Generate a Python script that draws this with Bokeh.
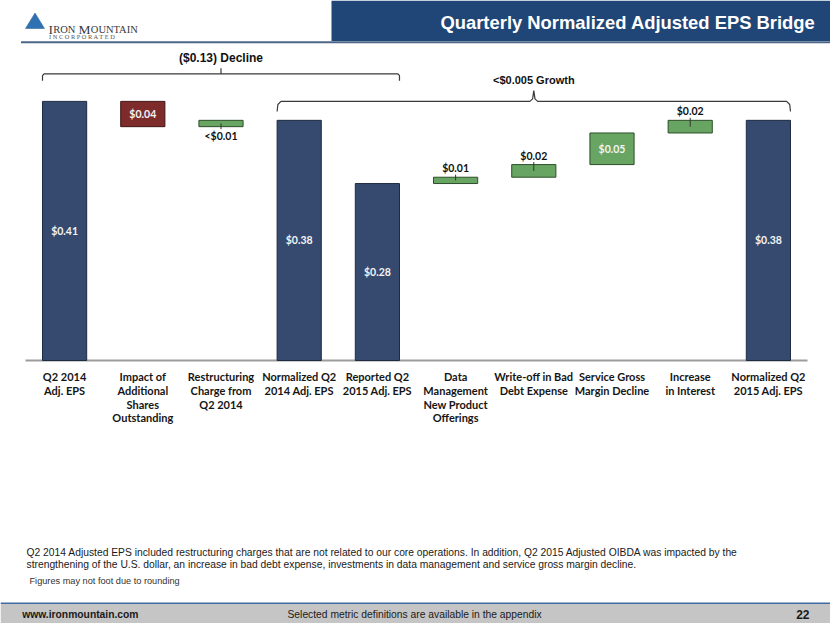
from bokeh.plotting import figure
from bokeh.models import Range1d, ColumnDataSource
from bokeh.core.properties import value
from bokeh.embed import file_html
from bokeh.resources import INLINE

# ---------------- data ----------------
categories = [
    "Q2 2014 Adj. EPS",
    "Impact of Additional Shares Outstanding",
    "Restructuring Charge from Q2 2014",
    "Normalized Q2 2014 Adj. EPS",
    "Reported Q2 2015 Adj. EPS",
    "Data Management New Product Offerings",
    "Write-off in Bad Debt Expense",
    "Service Gross Margin Decline",
    "Increase in Interest",
    "Normalized Q2 2015 Adj. EPS",
]
tick_labels = [
    "Q2 2014\nAdj. EPS",
    "Impact of\nAdditional\nShares\nOutstanding",
    "Restructuring\nCharge from\nQ2 2014",
    "Normalized Q2\n2014 Adj. EPS",
    "Reported Q2\n2015 Adj. EPS",
    "Data\nManagement\nNew Product\nOfferings",
    "Write-off in Bad\nDebt Expense",
    "Service Gross\nMargin Decline",
    "Increase\nin Interest",
    "Normalized Q2\n2015 Adj. EPS",
]
bar_values = [0.41, -0.04, 0.01, 0.38, 0.28, 0.01, 0.02, 0.05, 0.02, 0.38]
bar_kinds = ["total", "down", "up", "total", "total", "up", "up", "up", "up", "total"]
value_labels = ["$0.41", "$0.04", "<$0.01", "$0.38", "$0.28", "$0.01", "$0.02", "$0.05", "$0.02", "$0.38"]
label_places = ["inside", "inside", "below", "inside", "inside", "above", "above", "inside", "above", "inside"]

bracket_texts = ["($0.13) Decline", "<$0.005 Growth"]
bracket_first = [0, 3]
bracket_last = [4, 9]

title_text = "Quarterly Normalized Adjusted EPS Bridge"
note_lines = [
    "Q2 2014 Adjusted EPS included restructuring charges that are not related to our core operations. In addition, Q2 2015  Adjusted OIBDA was impacted by the",
    "strengthening of the U.S. dollar, an increase in bad debt expense, investments in data management and service gross margin decline.",
]
rounding_note = "Figures may not foot due to rounding"
footer_left = "www.ironmountain.com"
footer_mid = "Selected metric definitions are available in the appendix"
page_number = "22"

# ---------------- styling ----------------
NAVY = "#354A6E"
RED = "#7E2B2B"
GREEN = "#68A562"
kind_fill = {"total": NAVY, "down": RED, "up": GREEN}
kind_line = {"total": "#1E2B40", "down": "#3F1515", "up": "#2E4F2B"}
BAR_W = 0.565
SANS = value("Liberation Sans")
SERIF = value("Liberation Serif")
LATO = value("Lato")

# category slot centres (one unit per category)
cat_x = [i + 0.5 for i in range(len(categories))]

# waterfall geometry from the values
bottoms, tops = [], []
running = 0.0
for v, k in zip(bar_values, bar_kinds):
    if k == "total":
        b, t = 0.0, v
        running = v
    elif k == "down":
        b, t = running + v, running
        running = running + v
    else:
        b, t = running, running + v
        running = running + v
    bottoms.append(b)
    tops.append(t)

p = figure(
    width=830, height=623,
    x_range=Range1d(-0.3197, 10.2941),
    y_range=Range1d(-0.41614, 0.56962),
    output_backend="svg", toolbar_location=None,
    x_axis_location=None, y_axis_location=None,
    min_border=0,
)
p.outline_line_color = None
p.grid.visible = False
p.background_fill_color = "white"
p.extra_x_ranges = {"px": Range1d(0, 830)}
p.extra_y_ranges = {"px": Range1d(623, 0)}
PX = dict(x_range_name="px", y_range_name="px")

# ---------------- header ----------------
p.quad(left=[331], right=[830], top=[0], bottom=[40.5], fill_color="#1F4677", line_color=None, **PX)
p.segment(x0=[20.5], y0=[41.8], x1=[830], y1=[41.8], line_color="#4C6688", line_width=2, **PX)
p.text(x=[815], y=[21.5], text=[title_text], text_align="right", text_baseline="middle",
       text_font=SANS, text_font_style="bold", text_font_size="18.4px",
       text_color="white", **PX)
# logo
p.patch(x=[25, 34.5, 44], y=[28, 12.5, 28], fill_color="#2F72B4", line_color="#23598E", line_width=0.5, **PX)
p.text(x=[48, 52.7, 77.9, 90.3], y=[28.5] * 4, text=["I", "RON", "M", "OUNTAIN"],
       text_font_size=["13.5px", "10.5px", "13.5px", "10.5px"],
       text_align="left", text_baseline="alphabetic",
       text_font=SERIF, text_color="#3a3a3a", **PX)
p.text(x=[48.5], y=[36], text=["I   N   C   O   R   P   O   R   A   T   E   D"], text_align="left",
       text_baseline="middle", text_font=SERIF, text_font_size="6.4px", text_color="#555555", **PX)

# ---------------- brackets ----------------
for txt, i0, i1, k in zip(bracket_texts, bracket_first, bracket_last, range(2)):
    left = cat_x[i0] - BAR_W / 2
    right = cat_x[i1] + BAR_W / 2
    c = (left + right) / 2
    if k == 0:
        yl, ye, yp, yt, fs = 0.4536, 0.4425, 0.4625, 0.478, "12px"
        xs = [left, left, left + 0.02, c, c, c, right - 0.02, right, right]
        ys = [ye, yl - 0.003, yl, yl, yp, yl, yl, yl - 0.003, ye]
    else:
        yl, ye, yp, yt, fs = 0.410, 0.394, 0.427, 0.4445, "11px"
        xs = [left, left + 0.01, left + 0.05, c - 0.05, c - 0.015, c, c + 0.015, c + 0.05,
              right - 0.05, right - 0.01, right]
        ys = [ye, yl - 0.005, yl, yl, yl + 0.004, yp, yl + 0.004, yl, yl, yl - 0.005, ye]
    p.line(x=xs, y=ys, line_color="#3a3a3a", line_width=1.2)
    p.text(x=[c], y=[yt], text=[txt], text_align="center", text_baseline="middle",
           text_font=SANS, text_font_style="bold", text_font_size=fs,
           text_color="#111111")

# ---------------- axis line ----------------
p.segment(x0=[0], y0=[0], x1=[len(categories)], y1=[0], line_color="#9C9C9C", line_width=2)

# ---------------- bars ----------------
src = ColumnDataSource(dict(
    x=cat_x, cat=categories, bottom=bottoms, top=tops,
    fill=[kind_fill[k] for k in bar_kinds],
    line=[kind_line[k] for k in bar_kinds],
))
p.vbar(x="x", bottom="bottom", top="top", width=BAR_W, source=src,
       fill_color="fill", line_color="line", line_width=1)

# value labels
ins = dict(x=[], y=[], t=[])
outs = dict(x=[], y=[], t=[])
lead = dict(x0=[], y0=[], x1=[], y1=[])
for cx, b, t, lab, place in zip(cat_x, bottoms, tops, value_labels, label_places):
    mid = (b + t) / 2
    if place == "inside":
        ins["x"].append(cx); ins["y"].append(mid); ins["t"].append(lab)
    elif place == "above":
        outs["x"].append(cx); outs["y"].append(t + 0.014); outs["t"].append(lab)
        lead["x0"].append(cx); lead["y0"].append(mid); lead["x1"].append(cx); lead["y1"].append(t + 0.004)
    else:
        outs["x"].append(cx); outs["y"].append(b - 0.015); outs["t"].append(lab)
        lead["x0"].append(cx); lead["y0"].append(mid); lead["x1"].append(cx); lead["y1"].append(b - 0.004)

p.segment(x0="x0", y0="y0", x1="x1", y1="y1", source=ColumnDataSource(lead), line_color="#333333", line_width=1)
p.text(x="x", y="y", text="t", source=ColumnDataSource(ins), text_align="center", text_baseline="middle",
       text_font=LATO, text_font_style="bold", text_font_size="10.5px", text_color="#F4F4F4")
p.text(x="x", y="y", text="t", source=ColumnDataSource(outs), text_align="center", text_baseline="middle",
       text_font=LATO, text_font_style="bold", text_font_size="10.5px", text_color="#111111")

# category labels
p.text(x=cat_x, y=[-0.0155] * len(categories), text=tick_labels, text_align="center", text_baseline="top",
       text_font=LATO, text_font_style="bold", text_font_size="11px", text_color="#151515",
       text_line_height=1.05)

# ---------------- notes ----------------
for i, line in enumerate(note_lines):
    p.text(x=[26], y=[552 + 11.7 * i], text=[line], text_align="left", text_baseline="middle",
           text_font=SANS, text_font_size="10.3px", text_color="#1a1a1a", **PX)
p.text(x=[29], y=[580], text=[rounding_note], text_align="left", text_baseline="middle",
       text_font=SANS, text_font_size="9.2px", text_color="#333333", **PX)

# ---------------- footer ----------------
p.quad(left=[0], right=[830], top=[603], bottom=[623], fill_color="#C5C5C5", line_color=None, **PX)
p.segment(x0=[0], y0=[602.7], x1=[830], y1=[602.7], line_color="#3F6CA6", line_width=1.5, **PX)
p.text(x=[21.7], y=[614], text=[footer_left], text_align="left", text_baseline="middle",
       text_font=SANS, text_font_style="bold", text_font_size="10.3px", text_color="#1a1a1a", **PX)
p.text(x=[287], y=[614], text=[footer_mid], text_align="left", text_baseline="middle",
       text_font=SANS, text_font_size="10.3px", text_color="#1a1a1a", **PX)
p.text(x=[809], y=[614], text=[page_number], text_align="right", text_baseline="middle",
       text_font=SANS, text_font_style="bold", text_font_size="12px", text_color="#1a1a1a", **PX)

open("out.html", "w").write(file_html(p, INLINE))
